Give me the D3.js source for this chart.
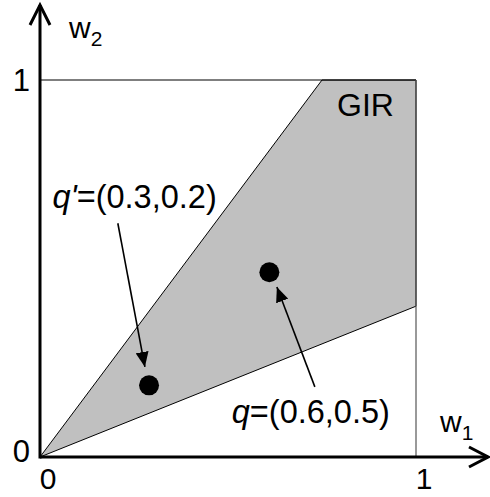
<!DOCTYPE html>
<html>
<head>
<meta charset="utf-8">
<script src="https://cdn.jsdelivr.net/npm/d3@7"></script>
<style>
  body { margin: 0; background: #fff; }
  text { font-family: "Liberation Sans", Arial, sans-serif; fill: #000; }
</style>
</head>
<body>
<div id="chart"></div>
<script>
// region and points, in (w1, w2) units
var girRegion = [[0, 0], [0.75, 1], [1, 1], [1, 0.4]]
var pointNames = ["q'", "q"]
var pointValues = [[0.29, 0.19], [0.61, 0.49]]
var pointLabels = ["=(0.3,0.2)", "=(0.6,0.5)"]
var labelAnchors = [[0.033, 0.66], [0.51, 0.09]]
var arrowFrom = [[0.207, 0.62], [0.731, 0.186]]
var arrowTo = [[0.279, 0.239], [0.63, 0.451]]
var tickValues = [0, 1]

var svg = d3.select("#chart")
    .append("svg")
    .attr("width", 490)
    .attr("height", 497)

var x = d3.scaleLinear().domain([0, 1]).range([40, 416])
var y = d3.scaleLinear().domain([0, 1]).range([457, 80])

svg.append("defs").append("marker")
    .attr("id", "tri")
    .attr("viewBox", "0 0 10 10")
    .attr("refX", 10).attr("refY", 5)
    .attr("markerWidth", 15).attr("markerHeight", 13)
    .attr("markerUnits", "userSpaceOnUse")
    .attr("orient", "auto")
    .attr("preserveAspectRatio", "none")
    .append("path")
    .attr("d", "M0,0L10,5L0,10Z")
    .attr("fill", "#000")

// gray region
svg.append("path")
    .attr("d", d3.line().x(d => x(d[0])).y(d => y(d[1]))(girRegion) + "Z")
    .attr("fill", "#c0c0c0")
    .attr("stroke", "#000")
    .attr("stroke-width", 1)

// unit square borders
svg.append("line")
    .attr("x1", x(0)).attr("x2", x(1))
    .attr("y1", y(1)).attr("y2", y(1))
    .attr("stroke", "#000").attr("stroke-width", 1.2)
svg.append("line")
    .attr("x1", x(1)).attr("x2", x(1))
    .attr("y1", y(1)).attr("y2", y(0))
    .attr("stroke", "#555").attr("stroke-width", 1.2)

// axes
svg.append("line")
    .attr("x1", x(0)).attr("x2", 488)
    .attr("y1", y(0)).attr("y2", y(0))
    .attr("stroke", "#000").attr("stroke-width", 3)
svg.append("line")
    .attr("x1", x(0)).attr("x2", x(0))
    .attr("y1", y(0) + 1.5).attr("y2", 5)
    .attr("stroke", "#000").attr("stroke-width", 3)
svg.append("path")
    .attr("d", "M" + (x(0) - 10) + ",25L" + x(0) + ",5L" + (x(0) + 10) + ",25")
    .attr("fill", "none").attr("stroke", "#000").attr("stroke-width", 3)
svg.append("path")
    .attr("d", "M469," + (y(0) - 10) + "L488," + y(0) + "L469," + (y(0) + 10))
    .attr("fill", "none").attr("stroke", "#000").attr("stroke-width", 3)

// tick labels
svg.selectAll(".xt")
    .data(tickValues)
    .join("text")
    .attr("x", d => x(d) + 8)
    .attr("y", 489)
    .attr("text-anchor", "middle")
    .style("font-size", "30px")
    .text(d => d)
svg.selectAll(".yt")
    .data(tickValues)
    .join("text")
    .attr("x", 30)
    .attr("y", d => d == 0 ? y(d) + 5 : y(d) + 11)
    .attr("text-anchor", "end")
    .style("font-size", "31px")
    .text(d => d)

// axis names
var w2 = svg.append("text").attr("x", 69).attr("y", 38).style("font-size", "30px")
w2.append("tspan").text("w")
w2.append("tspan").attr("dy", 8).style("font-size", "21px").text("2")
var w1 = svg.append("text").attr("x", 440).attr("y", 432).style("font-size", "30px")
w1.append("tspan").text("w")
w1.append("tspan").attr("dy", 8).style("font-size", "21px").text("1")

svg.append("text")
    .attr("x", 337).attr("y", 116)
    .style("font-size", "32px")
    .text("GIR")

// annotation arrows
svg.selectAll(".arr")
    .data(arrowFrom)
    .join("line")
    .attr("x1", d => x(d[0])).attr("y1", d => y(d[1]))
    .attr("x2", (d, i) => x(arrowTo[i][0])).attr("y2", (d, i) => y(arrowTo[i][1]))
    .attr("stroke", "#000").attr("stroke-width", 1.6)
    .attr("marker-end", "url(#tri)")

// points
svg.selectAll(".pt")
    .data(pointValues)
    .join("circle")
    .attr("cx", d => x(d[0]))
    .attr("cy", d => y(d[1]))
    .attr("r", 10)
    .attr("fill", "#000")

// point labels
var labels = svg.selectAll(".lbl")
    .data(labelAnchors)
    .join("text")
    .attr("x", d => x(d[0]))
    .attr("y", d => y(d[1]))
    .style("font-size", "32.5px")
labels.append("tspan").style("font-style", "italic").text((d, i) => pointNames[i])
labels.append("tspan").text((d, i) => pointLabels[i])
</script>
</body>
</html>
